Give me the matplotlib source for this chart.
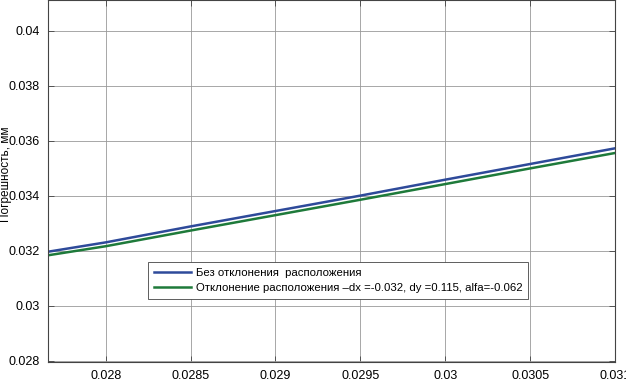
import matplotlib
matplotlib.use("Agg")
import matplotlib.pyplot as plt

x = [0.02766, 0.028, 0.0285, 0.029, 0.0295, 0.030, 0.0305, 0.031]
base = [0.03196, 0.0323, 0.03288, 0.03344, 0.03400, 0.03458, 0.03515, 0.03572]
shifted = [0.03183, 0.03216, 0.03273, 0.03329, 0.03385, 0.03442, 0.03499, 0.03555]
labels = ["Без отклонения  расположения",
          "Отклонение расположения \u2013dx =-0.032, dy =0.115, alfa=-0.062"]
xticks = [0.028, 0.0285, 0.029, 0.0295, 0.03, 0.0305, 0.031]
xticklabels = ["0.028", "0.0285", "0.029", "0.0295", "0.03", "0.0305", "0.031"]
yticks = [0.028, 0.03, 0.032, 0.034, 0.036, 0.038, 0.04]
yticklabels = ["0.028", "0.03", "0.032", "0.034", "0.036", "0.038", "0.04"]

plt.rcParams['font.family'] = ['Liberation Sans', 'DejaVu Sans']

fig = plt.figure(figsize=(6.26, 3.82), dpi=100)
ax = fig.add_axes([48/626, 1-362/382, (615-48)/626, 362/382 - 0.001])

ax.plot(x, base, color='#2E4A9A', lw=1.8, label=labels[0])
ax.plot(x, shifted, color='#1E7A3A', lw=1.8, label=labels[1])

ax.set_xlim(0.02766, 0.031)
ax.set_ylim(0.02795, 0.0411)
ax.set_xticks(xticks)
ax.set_xticklabels(xticklabels)
ax.set_yticks(yticks)
ax.set_yticklabels(yticklabels)
ax.tick_params(direction='in', top=True, right=True, labelsize=9, length=4, width=0.6, color='#444444', pad=6)
ax.grid(True, color='#999999', lw=0.6)
for s in ax.spines.values():
    s.set_color('#444444')
    s.set_linewidth(0.8)

ax.set_ylabel("Погрешность, мм", fontsize=8.5)
ax.yaxis.set_label_coords(-0.064, 0.52)

leg = ax.legend(loc='upper left', bbox_to_anchor=(100/567, 1-262/362), fontsize=8.2,
                frameon=True, fancybox=False, edgecolor='#444444', framealpha=1,
                handlelength=3.3, borderpad=0.5, labelspacing=0.45, handletextpad=0.4,
                borderaxespad=0)
leg.get_frame().set_linewidth(0.6)

fig.savefig("out.png", dpi=100)
